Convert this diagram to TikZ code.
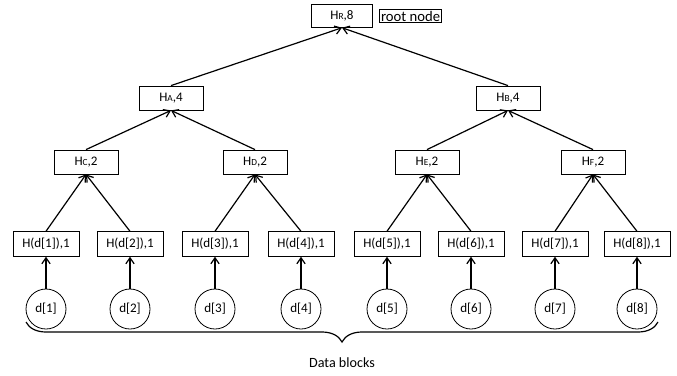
\documentclass[tikz,border=0pt]{standalone}
\usepackage{fontspec}
\setmainfont{Carlito}
\usepackage{tikz}
\usetikzlibrary{arrows.meta,positioning,decorations.pathreplacing}

\newcommand{\Hsub}[1]{H{\fontsize{7}{8}\selectfont #1}}

\begin{document}
\begin{tikzpicture}[
  x=0.75pt, y=-0.75pt,
  font=\fontsize{9.8}{11}\selectfont,
  hbox/.style={draw, line width=0.6pt, minimum width=48pt, minimum height=18pt, inner sep=1pt},
  leafbox/.style={draw, line width=0.6pt, minimum width=49.5pt, minimum height=18.5pt, inner sep=1pt},
  blk/.style={draw, circle, line width=0.6pt, minimum size=30pt, inner sep=0pt},
  arrow/.style={-{Straight Barb[length=1.6mm, width=2.2mm]}, line width=0.9pt},
  lab/.style={draw, line width=0.5pt, inner sep=1pt, font=\fontsize{11}{12}\selectfont}
]
\useasboundingbox (0,0) rectangle (677,375);
% tree
\node[hbox, minimum width=45.5pt, minimum height=17pt] (hr) at (342,16) {\Hsub{R},8};
\node[lab, right=5pt of hr] (rootlab) {root node};
\node[hbox] (ha) at (171,98) {\Hsub{A},4};
\node[hbox] (hb) at (508,98) {\Hsub{B},4};
\node[hbox] (hc) at (86,162) {\Hsub{C},2};
\node[hbox] (hd) at (255,162) {\Hsub{D},2};
\node[hbox] (he) at (427,162) {\Hsub{E},2};
\node[hbox] (hf) at (593,162) {\Hsub{F},2};
% leaves and data blocks
\foreach \i/\x in {1/46, 2/130, 3/215, 4/301, 5/387, 6/471, 7/555, 8/637} {
  \node[leafbox] (l\i) at (\x,244) {H(d[\i]),1};
  \node[blk] (d\i) at (\x,309) {d[\i]};
  \draw[arrow] (d\i) -- (l\i);
}
\draw[arrow] (l1.north) -- (hc.south);
\draw[arrow] (l2.north) -- (hc.south);
\draw[arrow] (l3.north) -- (hd.south);
\draw[arrow] (l4.north) -- (hd.south);
\draw[arrow] (l5.north) -- (he.south);
\draw[arrow] (l6.north) -- (he.south);
\draw[arrow] (l7.north) -- (hf.south);
\draw[arrow] (l8.north) -- (hf.south);
\draw[arrow] (hc.north) -- (ha.south);
\draw[arrow] (hd.north) -- (ha.south);
\draw[arrow] (he.north) -- (hb.south);
\draw[arrow] (hf.north) -- (hb.south);
\draw[arrow] (ha.north) -- (hr.south);
\draw[arrow] (hb.north) -- (hr.south);
% brace
\coordinate (bl) at (26,322);
\coordinate (br) at (658,322);
\draw[line width=0.9pt, decorate, decoration={brace, mirror, amplitude=15pt}] (bl) -- (br)
  node[midway, below=23pt, font=\fontsize{10.6}{12}\selectfont] (blocks) {Data blocks};
\end{tikzpicture}
\end{document}
